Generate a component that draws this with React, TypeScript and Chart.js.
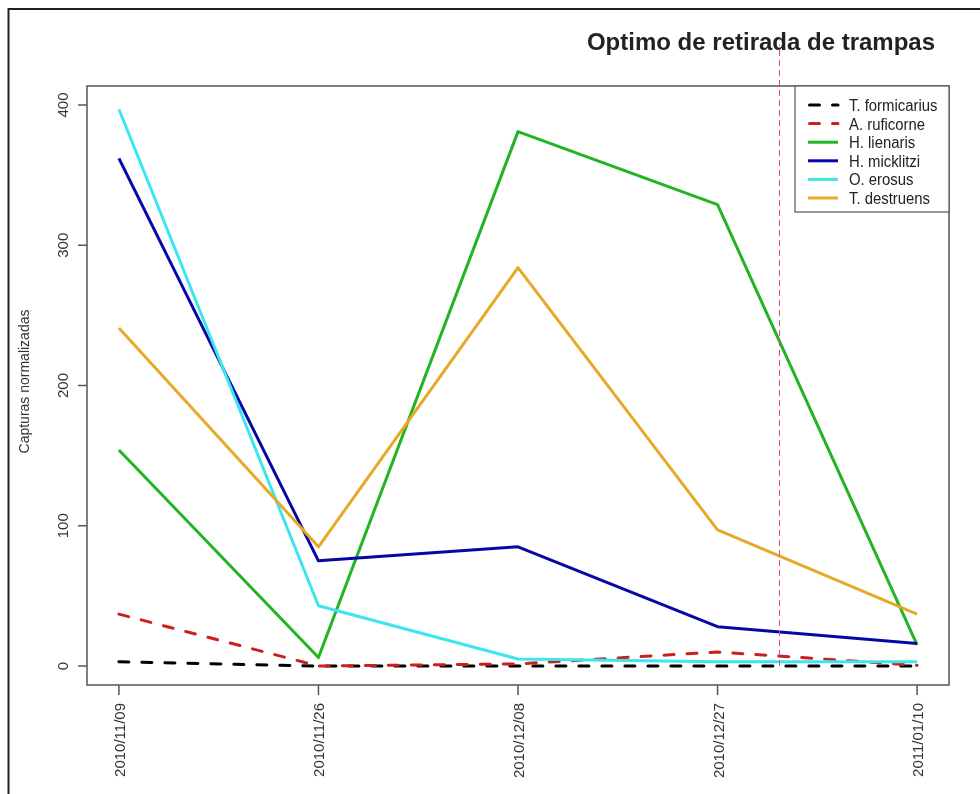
import React, { useEffect, useRef } from "react";
import { Chart, registerables } from "chart.js";

Chart.register(...registerables);

// Sampling dates (one point per date, evenly spaced on the axis)
const dates = ["2010/11/09", "2010/11/26", "2010/12/08", "2010/12/27", "2011/01/10"];

// Normalised captures per species
const tFormicarius = [3, 0, 0, 0, 0];
const aRuficorne = [37, 0, 1.5, 10, 0.5];
const hLienaris = [154, 6, 381, 329, 15];
const hMicklitzi = [362, 75, 85, 28, 16];
const oErosus = [397, 43, 5, 3, 3];
const tDestruens = [241, 85, 284, 97, 37];

const yTicks = [0, 100, 200, 300, 400];

// Position of the "optimo" marker (between 4th and 5th dates) and its top value
const cutoffX = 3.31;
const cutoffTop = 443;

const titleText = "Optimo de retirada de trampas";
const yTitle = "Capturas normalizadas";

const FONT = "'Liberation Sans', Arial, sans-serif";

const series = [
  { label: "T. formicarius", data: tFormicarius, color: "#000000", dashed: true },
  { label: "A. ruficorne", data: aRuficorne, color: "#cc1f1f", dashed: true },
  { label: "H. lienaris", data: hLienaris, color: "#22b422", dashed: false },
  { label: "H. micklitzi", data: hMicklitzi, color: "#0707a8", dashed: false },
  { label: "O. erosus", data: oErosus, color: "#3ce6ee", dashed: false },
  { label: "T. destruens", data: tDestruens, color: "#e8a828", dashed: false },
];

const decorPlugin = {
  id: "decor",
  afterDatasetsDraw(chart: any) {
    const { ctx, chartArea, scales } = chart;
    const xs = scales.x;
    const ys = scales.y;
    ctx.save();

    // outer frame
    ctx.strokeStyle = "#222";
    ctx.lineWidth = 2;
    ctx.strokeRect(8.5, 9, 1000, 1000);

    // vertical dashed marker
    ctx.save();
    ctx.strokeStyle = "#e8486e";
    ctx.lineWidth = 1;
    ctx.setLineDash([6, 4]);
    const mx = Math.round(xs.getPixelForValue(cutoffX)) + 0.5;
    ctx.beginPath();
    ctx.moveTo(mx, ys.getPixelForValue(0));
    ctx.lineTo(mx, ys.getPixelForValue(cutoffTop));
    ctx.stroke();
    ctx.restore();

    // plot box
    ctx.strokeStyle = "#555";
    ctx.lineWidth = 1.5;
    ctx.strokeRect(chartArea.left, chartArea.top, chartArea.right - chartArea.left, chartArea.bottom - chartArea.top);

    // y ticks and labels
    ctx.fillStyle = "#333";
    ctx.font = `15px ${FONT}`;
    yTicks.forEach((v) => {
      const py = ys.getPixelForValue(v);
      ctx.beginPath();
      ctx.moveTo(chartArea.left, py);
      ctx.lineTo(chartArea.left - 9, py);
      ctx.stroke();
      ctx.save();
      ctx.translate(chartArea.left - 19, py);
      ctx.rotate(-Math.PI / 2);
      ctx.textAlign = "center";
      ctx.textBaseline = "alphabetic";
      ctx.fillText(String(v), 0, 0);
      ctx.restore();
    });

    // x ticks and labels
    dates.forEach((d, i) => {
      const px = xs.getPixelForValue(i);
      ctx.beginPath();
      ctx.moveTo(px, chartArea.bottom);
      ctx.lineTo(px, chartArea.bottom + 10);
      ctx.stroke();
      ctx.save();
      ctx.translate(px + 6, chartArea.bottom + 18);
      ctx.rotate(-Math.PI / 2);
      ctx.textAlign = "right";
      ctx.textBaseline = "alphabetic";
      ctx.fillText(d, 0, 0);
      ctx.restore();
    });

    // y axis title
    ctx.save();
    ctx.font = `14px ${FONT}`;
    ctx.translate(28.5, (chartArea.top + chartArea.bottom) / 2 - 4);
    ctx.rotate(-Math.PI / 2);
    ctx.textAlign = "center";
    ctx.fillText(yTitle, 0, 0);
    ctx.restore();

    // title
    ctx.fillStyle = "#222";
    ctx.font = `bold 24px ${FONT}`;
    ctx.textAlign = "center";
    ctx.fillText(titleText, 761, 50);

    // legend
    const lx = 795;
    const lw = chartArea.right - lx;
    const ly = chartArea.top;
    const lh = 126;
    ctx.fillStyle = "#fff";
    ctx.fillRect(lx, ly, lw, lh);
    ctx.strokeStyle = "#555";
    ctx.lineWidth = 1.2;
    ctx.strokeRect(lx, ly, lw, lh);
    chart.data.datasets.forEach((ds: any, i: number) => {
      const cy = 105 + i * 18.6;
      ctx.save();
      ctx.strokeStyle = ds.borderColor;
      ctx.lineWidth = 3;
      ctx.lineCap = ds.borderDash.length ? "round" : "butt";
      ctx.setLineDash(ds.borderDash);
      ctx.beginPath();
      ctx.moveTo(ds.borderDash.length ? 809.5 : 808, cy);
      ctx.lineTo(838, cy);
      ctx.stroke();
      ctx.restore();
      ctx.save();
      ctx.fillStyle = "#222";
      ctx.font = `16px ${FONT}`;
      ctx.textAlign = "left";
      ctx.translate(849, cy + 6);
      ctx.scale(0.93, 1);
      ctx.fillText(ds.label, 0, 0);
      ctx.restore();
    });

    ctx.restore();
  },
};

export default function App() {
  const canvasRef = useRef<HTMLCanvasElement>(null);

  useEffect(() => {
    if (!canvasRef.current) return;
    const chart = new Chart(canvasRef.current, {
      type: "line",
      data: {
        datasets: series.map((s, i) => ({
          label: s.label,
          data: s.data.map((v, j) => ({ x: j, y: v })),
          borderColor: s.color,
          backgroundColor: s.color,
          borderWidth: 3,
          borderDash: s.dashed ? [10, 13] : [],
          borderCapStyle: s.dashed ? "round" : "butt",
          borderJoinStyle: "round",
          pointRadius: 0,
          tension: 0,
          fill: false,
          order: series.length - i,
        })),
      },
      options: {
        animation: false,
        responsive: false,
        devicePixelRatio: 1,
        layout: { padding: { left: 0, right: 31, top: 86, bottom: 0 } },
        plugins: { legend: { display: false }, tooltip: { enabled: false }, title: { display: false } },
        scales: {
          x: {
            type: "linear",
            min: -0.16,
            max: 4.16,
            ticks: { display: false },
            grid: { display: false },
            border: { display: false },
            afterFit: (s: any) => {
              s.height = 109;
            },
          },
          y: {
            type: "linear",
            min: -13.55,
            max: 413.55,
            ticks: { display: false },
            grid: { display: false },
            border: { display: false },
            afterFit: (s: any) => {
              s.width = 87;
            },
          },
        },
      },
      plugins: [decorPlugin],
    });
    return () => chart.destroy();
  }, []);

  return (
    <div style={{ position: "absolute", left: 0, top: 0, width: 980, height: 794, background: "#fff" }}>
      <canvas ref={canvasRef} width={980} height={794} style={{ width: 980, height: 794 }} />
    </div>
  );
}
